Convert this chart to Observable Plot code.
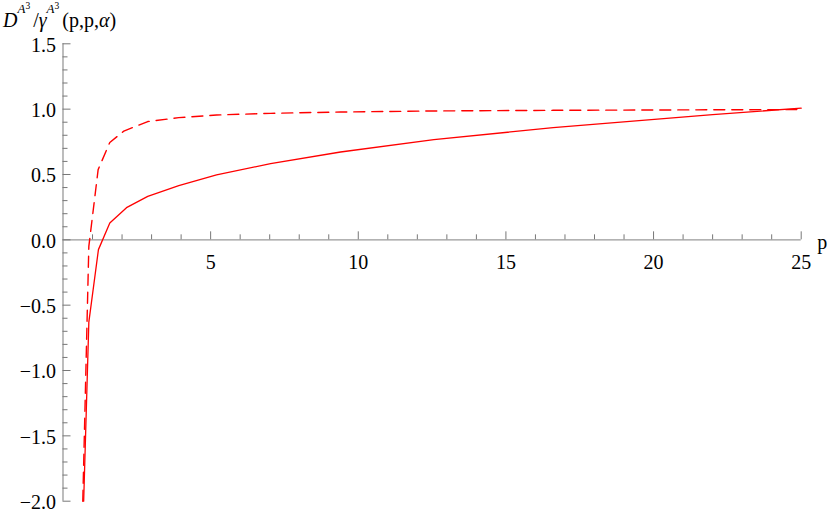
<!DOCTYPE html>
<html>
<head>
<meta charset="utf-8">
<script src="https://cdn.jsdelivr.net/npm/d3@7"></script>
<script src="https://cdn.jsdelivr.net/npm/@observablehq/plot@0.6"></script>
<style>
  html, body { margin: 0; padding: 0; background: #fff; }
  #chart svg text { font-family: "Liberation Serif", "Times New Roman", serif !important; }
</style>
</head>
<body>
<div id="chart"></div>
<script>
// Sample points of the two curves (p, value)
const solidP   = [0.70, 0.875, 1.20, 1.585, 2.15, 2.87, 3.92, 5.20, 7.03, 9.40, 12.56, 16.6, 22.0, 25.0];
const solidV   = [-2.0, -0.63, -0.075, 0.128, 0.246, 0.333, 0.415, 0.497, 0.583, 0.672, 0.767, 0.858, 0.958, 1.008];
const dashedP  = [0.67, 0.875, 1.19, 1.585, 2.06, 2.87, 3.92, 5.20, 7.03, 9.40, 12.56, 16.6, 22.0, 25.0];
const dashedV  = [-2.0, -0.05, 0.537, 0.745, 0.832, 0.905, 0.935, 0.955, 0.968, 0.978, 0.986, 0.991, 0.995, 0.997];

// Axis ticks
const xMajor = [5, 10, 15, 20, 25];
const xMinor = [1, 2, 3, 4, 6, 7, 8, 9, 11, 12, 13, 14, 16, 17, 18, 19, 21, 22, 23, 24];
const yMajor = [-2.0, -1.5, -1.0, -0.5, 0.0, 0.5, 1.0, 1.5];
const yMinor = [-1.9, -1.8, -1.7, -1.6, -1.4, -1.3, -1.2, -1.1, -0.9, -0.8, -0.7, -0.6,
                -0.4, -0.3, -0.2, -0.1, 0.1, 0.2, 0.3, 0.4, 0.6, 0.7, 0.8, 0.9, 1.1, 1.2, 1.3, 1.4];

const solid = solidP.map((p, i) => ({p, v: solidV[i]}));
const dashed = dashedP.map((p, i) => ({p, v: dashedV[i]}));

const serif = "Liberation Serif";
const axisColor = "#999";
const tickColor = "#777";
const red = "#ff0000";

const svg = Plot.plot({
  width: 830,
  height: 515,
  marginLeft: 62.5,
  marginRight: 29.3,
  marginTop: 43.3,
  marginBottom: 14.3,
  style: {background: "#fff", color: "#000", fontFamily: "'Liberation Serif', serif"},
  x: {domain: [0, 25], axis: null},
  y: {domain: [-2, 1.5], axis: null},
  marks: [
    // axes
    Plot.ruleY([0], {stroke: axisColor, strokeWidth: 1.3}),
    Plot.ruleX([0], {stroke: axisColor, strokeWidth: 1.3}),
    // x ticks (pointing up)
    Plot.ruleX(xMajor, {x: d => d, y1: 0, y2: 0, insetTop: -8, stroke: tickColor, strokeWidth: 1}),
    Plot.ruleX(xMinor, {x: d => d, y1: 0, y2: 0, insetTop: -5, stroke: tickColor, strokeWidth: 1}),
    // y ticks (pointing right)
    Plot.ruleY(yMajor, {y: d => d, x1: 0, x2: 0, insetRight: -8, stroke: tickColor, strokeWidth: 1}),
    Plot.ruleY(yMinor, {y: d => d, x1: 0, x2: 0, insetRight: -5, stroke: tickColor, strokeWidth: 1}),
    // tick labels
    Plot.text(xMajor, {x: d => d, y: 0, text: d => String(d), dy: 23, fill: "#000", fontSize: 20, fontFamily: serif}),
    Plot.text(yMajor, {x: 0, y: d => d, text: d => d3.format(".1f")(d), textAnchor: "end", dx: -7, dy: 1.5, fill: "#000", fontSize: 20, fontFamily: serif}),
    // axis label p
    Plot.text(["p"], {x: 25, y: 0, text: d => d, textAnchor: "start", dx: 16, dy: 3, fill: "#000", fontSize: 20, fontFamily: serif}),
    // curves
    Plot.line(dashed, {x: "p", y: "v", stroke: red, strokeWidth: 1.4, strokeDasharray: "11,7"}),
    Plot.line(solid, {x: "p", y: "v", stroke: red, strokeWidth: 1.3})
  ]
});

// y-axis label (title) with superscripts
const t = d3.select(svg).append("text")
  .attr("x", 3).attr("y", 27)
  .attr("fill", "#000")
  .attr("text-anchor", "start")
  .attr("font-family", serif)
  .attr("font-size", 20);
t.append("tspan").attr("font-style", "italic").text("D");
t.append("tspan").attr("font-style", "italic").attr("font-size", 13).attr("dy", -14).text("A");
t.append("tspan").attr("font-size", 9.5).attr("dy", -4).text("3");
t.append("tspan").attr("dy", 18).attr("dx", 3).text("/");
t.append("tspan").attr("font-style", "italic").text("γ");
t.append("tspan").attr("font-style", "italic").attr("font-size", 13).attr("dy", -14).text("A");
t.append("tspan").attr("font-size", 9.5).attr("dy", -4).text("3");
t.append("tspan").attr("dy", 18).attr("dx", 3).text("(p,p,");
t.append("tspan").attr("font-style", "italic").text("α");
t.append("tspan").text(")");

d3.select(svg).selectAll("text").style("font-family", "'Liberation Serif', serif");

document.getElementById("chart").appendChild(svg);
</script>
</body>
</html>
